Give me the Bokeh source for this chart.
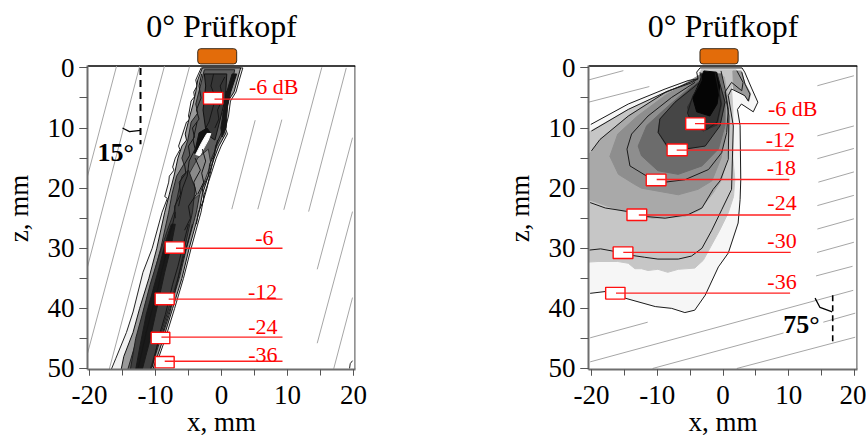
from bokeh.plotting import figure
from bokeh.layouts import row
from bokeh.embed import file_html
from bokeh.resources import INLINE
from bokeh.core.properties import value
from bokeh.models import Range1d, FixedTicker, Title

TITLE = "0° Prüfkopf"
X_TICKS = [-20, -10, 0, 10, 20]
X_MINOR = [-20, -15, -10, -5, 0, 5, 10, 15, 20]
X_LABELS = ["-20", "-10", "0", "10", "20"]
Z_TICKS = [0, 10, 20, 30, 40, 50]
Z_MINOR = [0, 5, 10, 15, 20, 25, 30, 35, 40, 45, 50]
FONT = "Liberation Serif"
Z_TOP = -0.33
Z_BOTTOM = 50.17
Z_HEAD = -3.4

# ---------- left panel (15 degrees) ----------
L_HATCH = [
    [(-15.9, -0.3), (-20.3, 18)], [(-12.4, -0.3), (-20.3, 33.1)], [(-8.64, -0.3), (-20.3, 47.5)],
    [(-4.85, -0.2), (-17, 50.1)], [(5.1, 8.7), (1.56, 23.5)], [(9.14, 8.6), (5.5, 23.5)],
    [(15.2, -0.1), (9.44, 23.6)], [(18.9, 0), (13.2, 23.9)], [(19.85, 11.6), (14.5, 33.5)],
    [(19.85, 23.9), (14.5, 45.8)], [(19.85, 38.2), (17, 50.05)],
]
L_BAND0 = [(-3.08, 0), (-3.9, 2), (-3.7, 3), (-4.2, 4), (-4.1, 4.8), (-4.6, 5.5), (-5.0, 8), (-4.8, 8.6), (-5.3, 9), (-5.9, 11),
           (-6.5, 13), (-6.3, 13.6), (-7.0, 15), (-7.4, 16.5), (-7.2, 17), (-7.9, 18), (-8.0, 19), (-8.6, 21.4), (-8.2, 21.7),
           (-9.0, 24), (-10.5, 30), (-11.9, 34), (-13.4, 40.6), (-14.4, 44), (-16, 48.3), (-16.7, 50.17), (-10.15, 50.17),
           (-8.5, 45), (-7.1, 40), (-5.76, 35), (-4.6, 30), (-3.1, 24), (-2.6, 21), (-1.67, 18), (-0.8, 15), (-0.05, 13),
           (0.9, 11), (0.6, 10), (1.06, 8), (1.36, 5.5), (2.2, 4), (2.7, 2), (3.23, 0)]
L_BAND1 = [(-2.9, 0), (-3.6, 2), (-3.9, 4), (-4.3, 6), (-4.8, 8), (-5.5, 11), (-5.3, 12), (-6, 13), (-6.6, 15), (-7.2, 18),
           (-7.9, 21), (-8.6, 24), (-9.8, 30), (-11, 35), (-12.4, 40), (-13.4, 44), (-14.8, 48), (-15.2, 50.17), (-10.4, 50.17),
           (-8.8, 45), (-7.4, 40), (-6, 35), (-4.9, 30), (-3.4, 24), (-2.9, 21), (-2, 18), (-1.1, 15), (-0.4, 13), (0.6, 11),
           (0.3, 9.5), (0.7, 8), (1, 5.5), (1.9, 4), (2.4, 2), (2.9, 0)]
L_BAND2 = [(-2.6, 0.3), (-3.2, 3), (-3.9, 6), (-3.6, 7.5), (-4.6, 9), (-5.1, 12), (-6, 15), (-5.7, 16), (-6.8, 18), (-7.5, 21),
           (-8, 24), (-9.2, 30), (-10.4, 35), (-11.7, 40), (-12.8, 45), (-14.2, 50.17), (-10.7, 50.17), (-9.2, 45), (-7.8, 40),
           (-6.4, 35), (-5.3, 30), (-3.8, 24), (-3.3, 21), (-2.4, 18), (-1.5, 15), (-0.7, 13), (0.2, 11), (0.4, 8), (0.7, 5),
           (1.5, 3), (2, 0.3)]
L_BAND3 = [(-13.8, 50.17), (-13, 45), (-12, 41), (-10.8, 36), (-9.4, 31), (-8.2, 27), (-7.2, 24), (-6.6, 21), (-6, 18), (-5, 17), (-4, 20),
           (-4.4, 24), (-5.6, 30), (-6.6, 35), (-8, 40), (-9.4, 45), (-10.8, 50.17)]
L_BAND4 = [(-13, 50.17), (-12.3, 46), (-11.4, 41), (-10.4, 37), (-9.4, 33), (-8.5, 29), (-7.6, 26), (-7, 26), (-7.7, 30), (-8.6, 34),
           (-9.4, 38), (-10, 41), (-11, 46), (-12, 50.17)]
L_UPPER = [(-2.6, 1), (0.8, 1), (0.6, 5), (-0.3, 9), (-1, 12), (-2.3, 11), (-2.8, 7), (-2.4, 3)]
L_STRIP = [(2.3, 1), (1.4, 4), (0.9, 6.5), (0.7, 10), (0.1, 11.5), (-0.1, 10), (0.4, 6.5), (0.8, 4), (1.6, 1)]
L_PATCH = [(-3.6, 15), (-2, 13.5), (-1.6, 16), (-3.3, 21), (-5.4, 23), (-5.6, 19)]
L_SHADOW = [(-3.4, 10.8), (-2.2, 10), (-1.6, 10.9), (-3, 13.9), (-4.1, 14.2)]
L_SLIT = [(-3.9, 14.4), (-3.3, 14.6), (-2.0, 12), (-1.6, 10.9), (-2.2, 10.9), (-3.0, 12.4)]
L_VEINS = [
    [(-3, 1), (-3.4, 3), (-3.1, 5), (-3.8, 7), (-3.4, 8.5), (-4.4, 10), (-4.1, 11.5), (-5, 13), (-4.8, 14.5), (-5.6, 16), (-5.4, 17.5), (-6.4, 19), (-6.2, 21), (-7.1, 23), (-7, 25)],
    [(1.8, 1), (1.4, 3), (0.7, 4), (0.9, 6), (0.2, 7.5), (0.4, 9), (-0.1, 11), (-0.9, 13), (-1.1, 14.5), (-1.8, 16), (-2, 18), (-2.9, 20), (-2.7, 22), (-3.5, 24), (-3.8, 26)],
    [(-1.2, 1), (-1.6, 3), (-0.9, 5), (-1.4, 7), (-1.9, 9), (-2.4, 10)],
    [(0.5, 1.5), (-0.2, 3), (0.2, 5), (-0.6, 7), (-0.4, 8.5), (-1, 10)],
    [(-4, 15), (-3.2, 17), (-4.2, 19), (-3.8, 21), (-5, 23), (-4.7, 25), (-5.6, 27)],
    [(-2.9, 13.5), (-2.4, 15.5), (-3, 17.5), (-2.7, 19), (-3.6, 21)],
    [(-7, 24), (-7.4, 26), (-7.9, 28), (-8.4, 31), (-9.1, 34), (-9.7, 37), (-10.7, 41), (-11.4, 44), (-12.6, 49.8)],
    [(-5, 26), (-5.7, 29), (-6.6, 33), (-7.4, 36), (-8.5, 41), (-9.3, 44), (-10.5, 49.8)],
    [(-4.4, 26), (-5.1, 29), (-5.9, 32), (-6.8, 36), (-7.9, 41), (-8.8, 44)],
    [(-3.7, 9), (-4.3, 12), (-4, 13.5), (-4.9, 15.5), (-5.2, 18), (-5.9, 20), (-6.5, 23)],
    [(-0.6, 12), (-1.2, 15), (-1.8, 18), (-2.2, 20), (-3, 23)],
]
L_CORNER = [(19.4, 50), (19.5, 49.2), (19.85, 48.7)]
L_BOXES = [(-2.73, 0.2, 4.06, 6.02), (-8.53, -5.65, 28.93, 30.82), (-10.05, -7.17, 37.46, 39.41),
           (-10.65, -7.83, 43.98, 45.87), (-10.05, -7.17, 48.0, 49.9)]
L_LEADERS = [(-1.06, 9.24, 5.18), (-6.9, 9.24, 30.0), (-8.0, 9.24, 38.46), (-9.1, 9.24, 44.77), (-8.6, 9.24, 48.8)]
L_TEXT = ["-6 dB", "-6", "-12", "-24", "-36"]
L_TEXT_X = [11.67, 7.88, 8.44, 8.48, 8.48]
L_TEXT_Z = [4.9, 29.15, 38.1, 43.9, 48.66]
L_ANGLE_LINE = [(-12.27, 0), (-12.27, 12.7)]
L_ANGLE_ARC = [(-15, 10), (-13.94, 10.6), (-12.27, 10.4)]
L_HEAD = (-3.6, 2.3, -3.2, -0.67)

# ---------- right panel (75 degrees) ----------
R_HATCH = [
    [(-20.45, 2), (-15.15, 0.45)], [(-20.45, 5.7), (-11.2, 3.1)], [(14.35, 2.96), (19.9, 1.3)],
    [(14.35, 11.3), (19.9, 9.65)], [(14.35, 15.1), (19.9, 13.4)], [(14.5, 19), (19.9, 17.3)],
    [(14.35, 22.9), (19.9, 21.2)], [(14.35, 26.8), (19.9, 25.1)], [(14.3, 30.7), (19.9, 29)],
    [(14.15, 34.6), (19.7, 33)], [(-20.2, 48.9), (19.8, 37)], [(-20.2, 44.9), (-11.45, 42.3)],
    [(-10.7, 50), (9.2, 44.1)], [(15.25, 42.3), (20.1, 40.8)], [(2.1, 50), (20.1, 44.8)],
]
R_OUTER = [(-20.45, 37.6), (-20.2, 37.5), (-17.9, 37.2), (-14.9, 38.3), (-10.3, 39.7), (-7.8, 40.0), (-5.8, 40.7), (-4.3, 40.3),
           (-2.7, 37.8), (-0.7, 33.1), (0.8, 30.8), (2.3, 25.8), (2.6, 21.9), (2.7, 18.6), (2.6, 9.6), (2.2, 6.9), (2.8, 6.0),
           (4.6, 7.3), (5.3, 5.7), (4.4, 3.5), (3.3, 0.7), (2.9, 0), (-3.5, 0), (-4.0, 0.7), (-3.8, 1.8), (-5.3, 2.1), (-8.8, 3.5),
           (-14.4, 6.0), (-20.1, 9.4), (-20.45, 9.6)]
R_BAND_B = [(-20.45, 32.3), (-19, 32.2), (-16, 32.2), (-14.4, 32.5), (-13.4, 33.4), (-12.4, 33.4), (-11.4, 33.7), (-9.9, 33.5),
            (-8.4, 34), (-6.8, 33.5), (-4.3, 33.3), (-3, 32), (-2, 30), (-0.5, 27), (0.8, 24.1), (1.6, 21.4), (1.8, 18.6),
            (1.5, 15), (1.5, 7), (1.3, 3.5), (2, 0.3), (-3.3, 0.3), (-3.9, 2.2), (-4.8, 2.5), (-8.3, 3.8), (-14.4, 6.9), (-20.45, 10.7)]
R_BAND_C = [(-20.45, 21.9), (-16, 23.6), (-10.8, 25), (-5.8, 24.7), (-3.5, 23.6), (-1.5, 20.8), (-0.2, 18.6), (0.6, 15), (1, 10),
            (0.9, 6), (0.2, 1.5), (-3, 0.5), (-3.8, 1.8), (-8.8, 4.1), (-14.4, 8), (-18.7, 11.9), (-20.45, 14.5)]
R_BAND_D = [(-17.2, 14.7), (-15.9, 17.7), (-13.4, 19.4), (-12.4, 20), (-6.8, 21.1), (-3.8, 20.2), (-1.7, 18.8), (-0.3, 15), (0.4, 10),
            (0.4, 6), (-0.2, 1), (-3.6, 1.2), (-8.8, 4.6), (-13, 8), (-16, 11)]
R_BAND_E = [(-12.9, 13), (-12.4, 14.6), (-9.9, 17.1), (-6.8, 17.7), (-3.2, 16.3), (-0.7, 13.5), (0.3, 9.6), (0.3, 5), (-0.3, 1),
            (-3.4, 1), (-4.8, 3), (-8.3, 6.3), (-11.6, 9.6)]
R_BAND_F = [(-9.6, 8.5), (-9.9, 10.7), (-8.4, 13.3), (-5.8, 13.5), (-2.7, 12.9), (-0.5, 9.6), (0.3, 5.7), (-0.5, 2.7), (-1, 1), (-3.2, 1),
            (-3.4, 2.1), (-5, 3.5), (-7.3, 5.7)]
R_BAND_G = [(-5.4, 6.5), (-5, 9), (-3, 10.5), (-0.9, 9.5), (-0.2, 6), (-0.7, 2.5), (-1.1, 1), (-3, 1), (-3.4, 3), (-4.6, 5)]
R_CORE = [(-4.6, 5), (-4, 7.3), (-2, 8), (-0.9, 6), (-0.5, 3), (-1, 0.7), (-2.9, 0.5), (-3.6, 2.4)]
R_LOBE = [(1.6, 3.5), (3.3, 4.6), (3.9, 5.6), (4.2, 4.3), (3.3, 2.5), (2.8, 0.5), (1.5, 0.5)]
R_CONTOURS = [
    R_OUTER[1:-1],
    [(-20, 10.5), (-14.4, 6.9), (-8.3, 3.8), (-4.8, 2.5), (-3.8, 1.8)],
    [(-20, 13.8), (-18.7, 11.9), (-14.4, 8), (-8.8, 4.1), (-3.8, 1.8)],
    [(-20.3, 30.3), (-18.6, 30.1), (-16.6, 30.5), (-14.4, 31.1), (-11.9, 31.5), (-9.9, 31.8), (-6.8, 31.8), (-4.8, 31.3), (-3.2, 30),
     (-1.7, 27), (-0.2, 23.6), (1.3, 20.2), (1.57, 9.65), (0.8, 4.6), (1.3, 3.5), (3.3, 4.6), (3.85, 5.5), (4.1, 4.35), (3.35, 2.7), (2.85, 0.7)],
    [(-20.2, 22.4), (-17.9, 23.3), (-14.4, 23.9), (-11.9, 24.7), (-8.8, 25), (-5.3, 24.4), (-3.2, 23.3), (-1.5, 20.2), (-0.45, 18.8),
     (0.8, 15.2), (0.9, 8), (0.3, 4), (1.3, 2.4), (2.85, 3.8), (3.05, 2.4), (2.1, 0.45)],
    [(-4.26, 2.4), (-7.8, 4.9), (-11.4, 8), (-13.9, 11), (-14.6, 13.5), (-14.15, 16.3), (-11.6, 18), (-8.8, 19), (-5.8, 18.6), (-2.2, 16.9),
     (-0.2, 14.1), (0.56, 10.75), (0.8, 6.85), (0.3, 3.5), (-0.3, 0.5)],
    [(-3.5, 0.7), (-3.24, 2.1), (-4.76, 3.5), (-7.3, 5.7), (-9.6, 8.5), (-9.84, 10.75), (-8.3, 13.3), (-5.8, 13.5), (-2.7, 13), (-0.46, 9.65),
     (0.3, 5.7), (-0.46, 2.7), (-0.96, 0.7)],
    [(-3.2, 0.8), (-3.4, 2.4), (-4.6, 4.7), (-5.4, 7.5), (-4.6, 9.5), (-2.4, 10.2), (-0.9, 9), (-0.3, 6), (-0.8, 3), (-1.2, 0.8)],
]
R_BOXES = [(-5.67, -2.74, 8.3, 10.25), (-8.5, -5.43, 12.66, 14.6), (-11.67, -8.67, 17.67, 19.6),
           (-14.6, -11.6, 23.46, 25.37), (-16.7, -13.7, 29.77, 31.7), (-17.84, -14.9, 36.5, 38.46)]
R_LEADERS = [(-4.26, 10.08, 9.25), (-7.04, 10.08, 13.66), (-10.08, 10.08, 18.56), (-12.8, 10.3, 24.47), (-15.16, 10.3, 30.7), (-16.27, 10.2, 37.46)]
R_TEXT = ["-6 dB", "-12", "-18", "-24", "-30", "-36"]
R_TEXT_X = [14.35, 10.95, 11.1, 11.2, 11.2, 11.2]
R_TEXT_Z = [8.53, 12.88, 17.44, 23.3, 29.7, 36.4]
R_ANGLE_LINE = [(16.68, 37.8), (16.68, 46.15)]
R_ANGLE_ARC = [(14, 38.3), (14.75, 39.85), (16.6, 40.6)]
R_HEAD = (-3.5, 2.3, -3.2, -0.67)


def xs(pts):
    return [q[0] for q in pts]


def zs(pts):
    return [q[1] for q in pts]


def make(width, left, right, xr):
    p = figure(width=width, height=439, output_backend="svg", toolbar_location=None,
               x_range=Range1d(-xr, xr), y_range=Range1d(Z_BOTTOM, Z_HEAD),
               min_border_left=left, min_border_right=right, min_border_top=47, min_border_bottom=70,
               x_axis_label="x, mm", y_axis_label="z, mm", tools="")
    p.title = Title(text=TITLE, text_font=FONT, text_font_size="32px", text_font_style="normal",
                    text_color="black", align="center", standoff=8)
    p.grid.visible = False
    p.outline_line_color = None
    for ax, ticks, minor in ((p.xaxis[0], X_TICKS, X_MINOR), (p.yaxis[0], Z_TICKS, Z_MINOR)):
        ax.ticker = FixedTicker(ticks=ticks, minor_ticks=minor)
        ax.axis_line_color = "#6e6e6e"
        ax.axis_line_width = 2
        ax.major_tick_line_color = "#555555"
        ax.minor_tick_line_color = "#555555"
        ax.major_label_text_font = FONT
        ax.major_label_text_font_size = "27px"
        ax.major_label_text_color = "black"
        ax.axis_label_text_font = FONT
        ax.axis_label_text_font_size = "27px"
        ax.axis_label_text_font_style = "normal"
        ax.axis_label_text_color = "black"
    p.xaxis[0].major_label_overrides = dict(zip(X_TICKS, X_LABELS))
    p.xaxis[0].major_tick_out = 6
    p.xaxis[0].minor_tick_out = 6
    p.xaxis[0].major_tick_in = 0
    p.xaxis[0].minor_tick_in = 0
    p.yaxis[0].major_tick_out = 8
    p.yaxis[0].minor_tick_out = 8
    p.yaxis[0].major_tick_in = 0
    p.yaxis[0].minor_tick_in = 0
    p.yaxis[0].bounds = (Z_TOP, Z_BOTTOM)
    p.xaxis[0].major_label_standoff = 10
    p.yaxis[0].major_label_standoff = 5
    p.xaxis[0].axis_label_standoff = 0
    p.yaxis[0].axis_label_standoff = 11
    p.segment([xr], [Z_TOP], [xr], [Z_BOTTOM], line_color="#6e6e6e", line_width=2.5)
    p.segment([-xr], [Z_TOP], [xr], [Z_TOP], line_color="black", line_width=1.6)
    return p


def band(p, pts, color, line=None):
    p.patch(xs(pts), zs(pts), fill_color=color, line_color=line if line else color, line_width=1)


def hatch(p, segs):
    p.multi_line([xs(s) for s in segs], [zs(s) for s in segs], line_color="#a6a6a6", line_width=1)


def callouts(p, boxes, leaders, texts, tx, tz):
    p.quad(left=[b[0] for b in boxes], right=[b[1] for b in boxes], top=[b[2] for b in boxes], bottom=[b[3] for b in boxes],
           fill_color="white", line_color="#ff1010", line_width=1.4)
    p.segment([l[0] for l in leaders], [l[2] for l in leaders], [l[1] for l in leaders], [l[2] for l in leaders],
              line_color="#ff2020", line_width=1.3)
    p.text(tx, tz, text=texts, text_font=value(FONT), text_font_size="22px", text_color="#ff0000",
           text_align="right", text_baseline="bottom", y_offset=2)


def head(p, box):
    p.quad(left=[box[0]], right=[box[1]], top=[box[2]], bottom=[box[3]], fill_color="#e36c0a",
           line_color="#3a2a1a", line_width=1, border_radius=3)


# ---- left ----
p1 = make(438, 87, 83, 20.3)
hatch(p1, L_HATCH)
band(p1, L_BAND0, "#f2f2f2", "#222222")
band(p1, L_BAND1, "#9a9a9a", "#111111")
band(p1, L_BAND2, "#5c5c5c", "#222222")
band(p1, L_PATCH, "#8a8a8a", "#333333")
band(p1, L_BAND3, "#404040", "#222222")
band(p1, L_BAND4, "#1a1a1a")
band(p1, L_UPPER, "#363636", "#111111")
band(p1, L_STRIP, "#161616")
band(p1, L_SHADOW, "#111111")
band(p1, L_SLIT, "#ffffff")
p1.multi_line([xs(v) for v in L_VEINS], [zs(v) for v in L_VEINS], line_color="#161616", line_width=1)
p1.line(xs(L_CORNER), zs(L_CORNER), line_color="#222222", line_width=1)
p1.line(xs(L_ANGLE_LINE), zs(L_ANGLE_LINE), line_color="black", line_width=2, line_dash="7 5")
p1.line(xs(L_ANGLE_ARC), zs(L_ANGLE_ARC), line_color="black", line_width=1.3)
p1.text([-18.8], [15.55], text=["15°"], text_font=value(FONT), text_font_size="26px", text_font_style="bold",
        text_color="black", text_baseline="bottom", y_offset=6)
callouts(p1, L_BOXES, L_LEADERS, L_TEXT, L_TEXT_X, L_TEXT_Z)
head(p1, L_HEAD)

# ---- right ----
p2 = make(428, 150, 9, 20.45)
hatch(p2, R_HATCH)
band(p2, R_OUTER, "#f6f6f6")
band(p2, R_BAND_B, "#c6c6c6")
band(p2, R_BAND_C, "#a9a9a9")
band(p2, R_BAND_D, "#8e8e8e")
band(p2, R_BAND_E, "#6c6c6c")
band(p2, R_BAND_F, "#464646")
band(p2, R_BAND_G, "#303030")
band(p2, R_CORE, "#050505")
band(p2, R_LOBE, "#9a9a9a")
p2.multi_line([xs(c) for c in R_CONTOURS], [zs(c) for c in R_CONTOURS], line_color="#1a1a1a", line_width=1)
p2.line(xs(R_ANGLE_LINE), zs(R_ANGLE_LINE), line_color="black", line_width=1.6, line_dash="6 4")
p2.line(xs(R_ANGLE_ARC), zs(R_ANGLE_ARC), line_color="black", line_width=1.3)
p2.text([9.17], [44.15], text=["75°"], text_font=value(FONT), text_font_size="26px", text_font_style="bold",
        text_color="black", text_baseline="bottom", y_offset=6)
callouts(p2, R_BOXES, R_LEADERS, R_TEXT, R_TEXT_X, R_TEXT_Z)
head(p2, R_HEAD)

layout = row(p1, p2)
open("out.html", "w").write(file_html(layout, INLINE))
